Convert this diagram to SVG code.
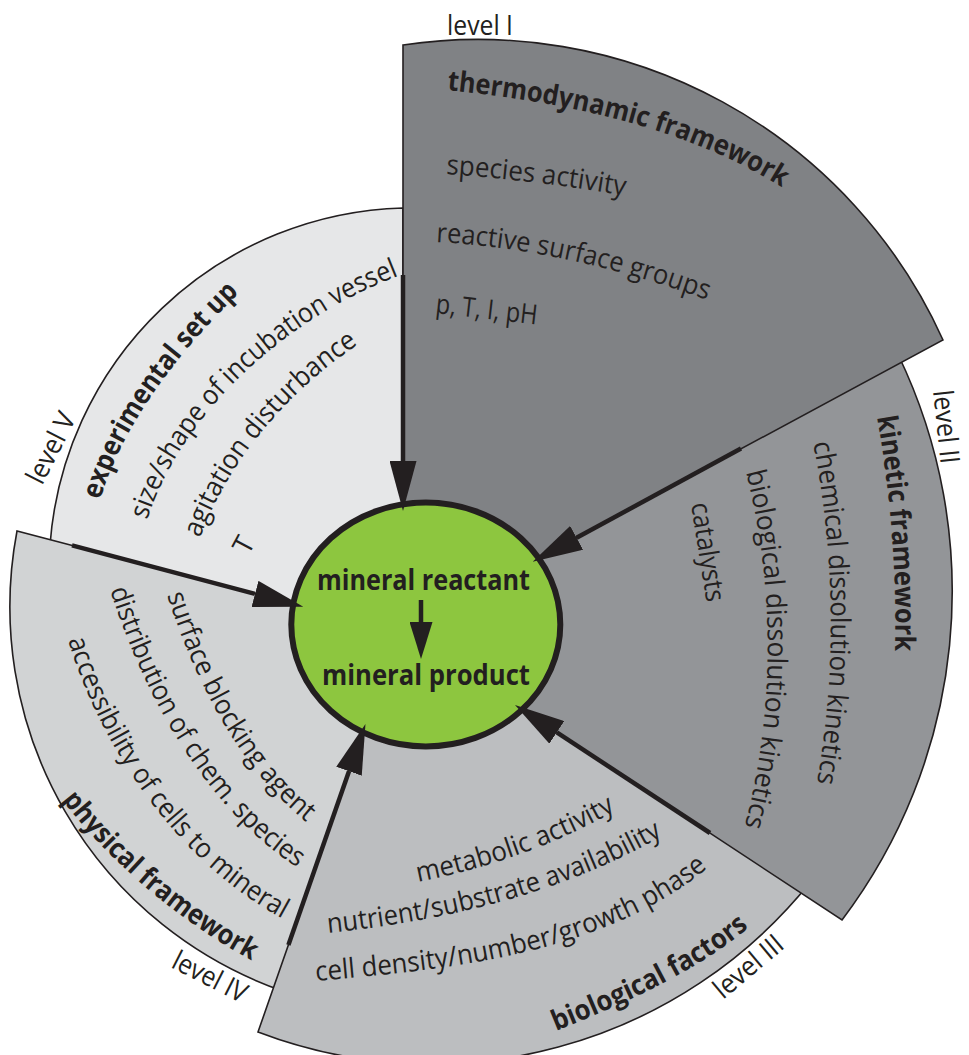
<svg xmlns="http://www.w3.org/2000/svg" width="969" height="1055" viewBox="0 0 969 1055">
  <style>
    .sector { stroke: #231f20; stroke-width: 1.6; stroke-linejoin: miter; }
    .l1 { fill: #808285; }
    .l2 { fill: #939598; }
    .l3 { fill: #bcbec0; }
    .l4 { fill: #d1d3d4; }
    .l5 { fill: #e6e7e8; }
    text { font-family: "Open Sans", "Noto Sans", Lato, "Liberation Sans", sans-serif; font-size: 27.5px; fill: #231f20; }
    .b { font-weight: 700; font-size: 28px; }
    .arrow { stroke: #231f20; stroke-width: 4.5; fill: none; }
  </style>
  <defs>
    <marker id="head" markerUnits="userSpaceOnUse" markerWidth="50" markerHeight="27" refX="0" refY="13.5" orient="auto" viewBox="0 0 50 27">
      <path d="M0,0 L50,13.5 L0,27 Z" fill="#231f20"/>
    </marker>
    <marker id="headSmall" markerUnits="userSpaceOnUse" markerWidth="37" markerHeight="23" refX="0" refY="11.5" orient="auto" viewBox="0 0 37 23">
      <path d="M0,0 L37,11.5 L0,23 Z" fill="#231f20"/>
    </marker>
    <!-- baselines for the curved labels -->
    <path id="tp1" d="M447,90 C563.4,102.2 683.8,126 783,188 L851,230"/>
    <path id="tp2" d="M446,174 C505.9,178.2 566.9,185.6 626,196 L704.8,209.9"/>
    <path id="tp3" d="M436,242 C527.9,246.8 620.5,268.5 707,300 L782,327"/>
    <path id="tp6" d="M877,417 C890.6,494.4 896.9,573.4 895,652 L893,732"/>
    <path id="tp7" d="M813,443 C835.3,553.7 836.6,671.7 817,783 L803,862"/>
    <path id="tp8" d="M746,472 C775.6,587.3 774.8,714.1 744,829 L723.3,906.3"/>
    <path id="tp11" d="M418,882 C488.4,868.3 557.9,843.9 620,808 L689.3,768"/>
    <path id="tp12" d="M328,933 C443.4,920.9 561.5,894 662,836 L731.3,796"/>
    <path id="tp13" d="M316,981 C452.5,969.1 605,954.1 710,866 L771.3,814.6"/>
    <path id="tp14" d="M556,1031 C624.6,1003.3 695.3,972.6 752,925 L813.3,873.6"/>
    <path id="tp16" d="M167,595 C194.8,680.6 239.1,769.6 310,825 L373,874.3"/>
    <path id="tp17" d="M110,590 C144.6,696.5 204.1,807 298,868 L365,911.6"/>
    <path id="tp18" d="M68,640 C102.5,752.8 180.8,864.6 285,920 L355.6,957.6"/>
    <path id="tp19" d="M62,800 C114.3,867 183,924.1 258,964 L328.6,1001.6"/>
    <path id="tp22" d="M100,500 C123.7,422.5 177.7,354.3 235,297 L291.6,240.4"/>
    <path id="tp23" d="M147,520 C181.9,412.5 283.2,322.3 388,280 L462.2,250"/>
    <path id="tp24" d="M200,538 C227.4,462.8 284.5,395.9 350,350 L415.5,304.1"/>
  </defs>

  <!-- level V: experimental set up -->
  <g id="level-5">
    <path class="sector l5" d="M403,631 L50,545 A364,364 0 0 1 403,208 Z"/>
    <text transform="translate(42,486) rotate(-63)" textLength="76" lengthAdjust="spacingAndGlyphs">level V</text>
    <text class="b"><textPath href="#tp22" textLength="252" lengthAdjust="spacingAndGlyphs">experimental set up</textPath></text>
    <text><textPath href="#tp23" textLength="362" lengthAdjust="spacingAndGlyphs">size/shape of incubation vessel</textPath></text>
    <text><textPath href="#tp24" textLength="254" lengthAdjust="spacingAndGlyphs">agitation disturbance</textPath></text>
    <text transform="translate(248.5,556) rotate(-62)">T</text>
  </g>

  <!-- level IV: physical framework -->
  <g id="level-4">
    <path class="sector l4" d="M398,631 L285,991.8 A407,407 0 0 1 17,531 Z"/>
    <text><textPath href="#tp16" textLength="270" lengthAdjust="spacingAndGlyphs">surface blocking agent</textPath></text>
    <text><textPath href="#tp17" textLength="341" lengthAdjust="spacingAndGlyphs">distribution of chem. species</textPath></text>
    <text><textPath href="#tp18" textLength="360" lengthAdjust="spacingAndGlyphs">accessibility of cells to mineral</textPath></text>
    <text class="b"><textPath href="#tp19" textLength="250" lengthAdjust="spacingAndGlyphs">physical framework</textPath></text>
    <text transform="translate(170,967) rotate(27)" textLength="80" lengthAdjust="spacingAndGlyphs">level IV</text>
  </g>

  <!-- level III: biological factors -->
  <g id="level-3">
    <path class="sector l3" d="M398,631 L810,882.6 A486,486 0 0 1 258,1032 Z"/>
    <text><textPath href="#tp11" textLength="211" lengthAdjust="spacingAndGlyphs">metabolic activity</textPath></text>
    <text><textPath href="#tp12" textLength="351" lengthAdjust="spacingAndGlyphs">nutrient/substrate availability</textPath></text>
    <text><textPath href="#tp13" textLength="414" lengthAdjust="spacingAndGlyphs">cell density/number/growth phase</textPath></text>
    <text class="b"><textPath href="#tp14" textLength="220" lengthAdjust="spacingAndGlyphs">biological factors</textPath></text>
    <text transform="translate(723,1000) rotate(-40)" textLength="82" lengthAdjust="spacingAndGlyphs">level III</text>
  </g>

  <!-- level II: kinetic framework -->
  <g id="level-2">
    <path class="sector l2" d="M403,631 L898.3,355 A545,545 0 0 1 842,920 Z"/>
    <text class="b"><textPath href="#tp6" textLength="235" lengthAdjust="spacingAndGlyphs">kinetic framework</textPath></text>
    <text><textPath href="#tp7" textLength="342" lengthAdjust="spacingAndGlyphs">chemical dissolution kinetics</textPath></text>
    <text><textPath href="#tp8" textLength="358" lengthAdjust="spacingAndGlyphs">biological dissolution kinetics</textPath></text>
    <text transform="translate(691,504) rotate(81)" textLength="100" lengthAdjust="spacingAndGlyphs">catalysts</text>
    <text transform="translate(933,391) rotate(84)" textLength="74" lengthAdjust="spacingAndGlyphs">level II</text>
  </g>

  <!-- level I: thermodynamic framework -->
  <g id="level-1">
    <path class="sector l1" d="M403,631 L403,45 A510,510 0 0 1 943,340 Z"/>
    <text x="447" y="35" textLength="66" lengthAdjust="spacingAndGlyphs">level I</text>
    <text class="b"><textPath href="#tp1" textLength="352" lengthAdjust="spacingAndGlyphs">thermodynamic framework</textPath></text>
    <text><textPath href="#tp2" textLength="180" lengthAdjust="spacingAndGlyphs">species activity</textPath></text>
    <text><textPath href="#tp3" textLength="278" lengthAdjust="spacingAndGlyphs">reactive surface groups</textPath></text>
    <text transform="translate(435,313) rotate(6.5)" textLength="102" lengthAdjust="spacingAndGlyphs">p, T, I, pH</text>
  </g>

  <!-- central mineral node -->
  <g id="mineral">
    <ellipse cx="425.8" cy="624.5" rx="134.5" ry="122" fill="#8dc63f" stroke="#231f20" stroke-width="6"/>
    <text class="b" x="423.5" y="590" text-anchor="middle" textLength="213" lengthAdjust="spacingAndGlyphs">mineral reactant</text>
    <text class="b" x="426" y="685" text-anchor="middle" textLength="208" lengthAdjust="spacingAndGlyphs">mineral product</text>
  </g>

  <!-- influences pointing at the mineral node -->
  <g id="connectors">
    <path class="arrow" d="M403,275 L403,461" marker-end="url(#head)"/>
    <path class="arrow" d="M741,448.5 L576.6,537.8" marker-end="url(#head)"/>
    <path class="arrow" d="M710,833 L556.8,732.4" marker-end="url(#head)"/>
    <path class="arrow" d="M288.4,945 L349,771.2" marker-end="url(#head)"/>
    <path class="arrow" d="M72,545.4 L255,593.9" marker-end="url(#head)"/>
    <path class="arrow" d="M421,600 L421,622" marker-end="url(#headSmall)"/>
  </g>
</svg>
